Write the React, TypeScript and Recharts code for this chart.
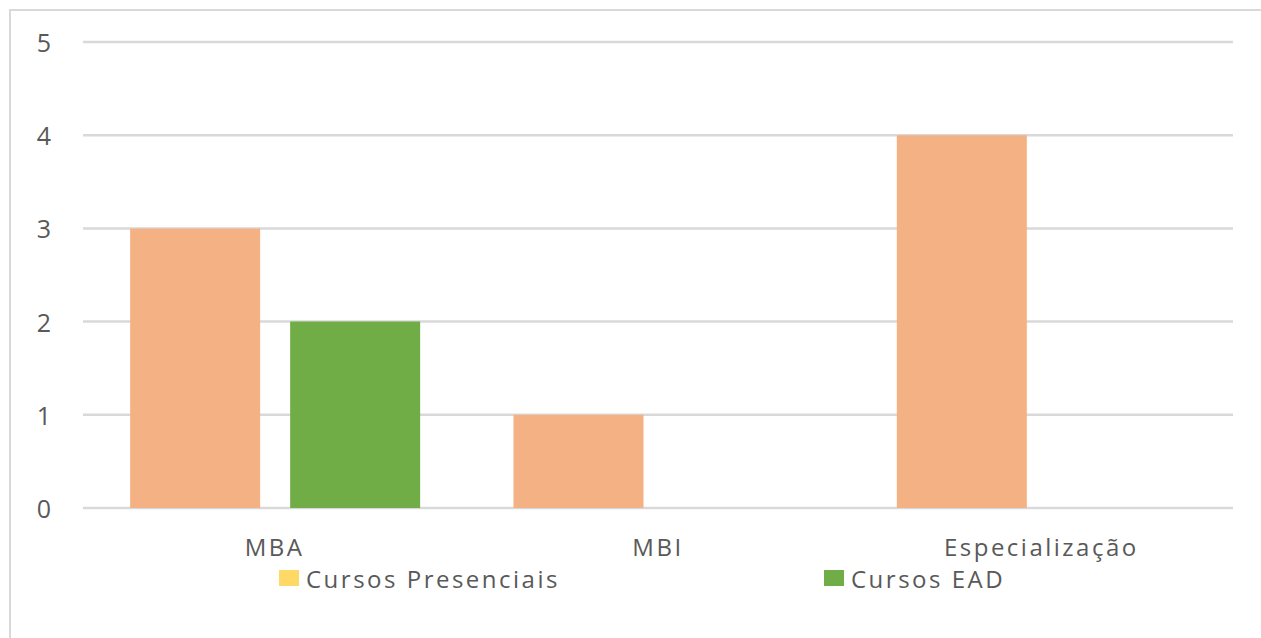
import React from 'react';
import { BarChart, Bar, XAxis, YAxis, CartesianGrid, Legend } from 'recharts';

const categories = ['MBA', 'MBI', 'Especialização'];
const presenciais = [3, 1, 4];
const ead = [2, 0, 0];
const yTicks = [0, 1, 2, 3, 4, 5];

const data = categories.map((name, i) => ({ name, presenciais: presenciais[i], ead: ead[i] }));

const FONT = '"Open Sans", sans-serif';
const TEXT = '#595959';

const YTick = (props: any) => {
    const { y, payload } = props;
    return (
        <text x={44} y={y} textAnchor="middle" dominantBaseline="central" fill={TEXT} fontSize={25} fontFamily={FONT}>
            {payload.value}
        </text>
    );
};

const XTick = (props: any) => {
    const { x, y, payload } = props;
    return (
        <text x={x} y={y + 30} textAnchor="middle" dominantBaseline="central" fill={TEXT} fontSize={24} fontFamily={FONT} letterSpacing={2.5}>
            {payload.value}
        </text>
    );
};

const legendItems = [
    { label: 'Cursos Presenciais', color: '#FFD966', left: 279 },
    { label: 'Cursos EAD', color: '#70AD47', left: 824 },
];

const LegendContent = () => (
    <div style={{ position: 'relative', height: 30, width: 1261 }}>
        {legendItems.map((it) => (
            <div
                key={it.label}
                style={{ position: 'absolute', left: it.left, top: 0, height: 30, display: 'flex', alignItems: 'center' }}
            >
                <span style={{ width: 20, height: 16, background: it.color, display: 'inline-block', marginRight: 7 }} />
                <span style={{ fontFamily: FONT, fontSize: 24, color: TEXT, letterSpacing: 2.5 }}>{it.label}</span>
            </div>
        ))}
    </div>
);

export default function App() {
    return (
        <div style={{ position: 'absolute', left: 0, top: 0, width: 1261, height: 638, overflow: 'hidden', background: '#fff' }}>
            <div
                style={{
                    position: 'absolute',
                    left: 9,
                    top: 9,
                    width: 1300,
                    height: 700,
                    border: '2px solid #d9d9d9',
                }}
            />
            <div style={{ position: 'absolute', left: 0, top: 0 }}>
                <BarChart
                    width={1261}
                    height={638}
                    data={data}
                    margin={{ top: 42, right: 28, left: 0, bottom: 45 }}
                    barCategoryGap="12.3%"
                    barGap={30}
                >
                    <CartesianGrid vertical={false} stroke="#d9d9d9" strokeWidth={2.5} />
                    <XAxis dataKey="name" axisLine={false} tickLine={false} tick={<XTick />} height={55} interval={0} />
                    <YAxis
                        domain={[0, 5]}
                        ticks={yTicks}
                        axisLine={false}
                        tickLine={false}
                        width={83}
                        tick={<YTick />}
                    />
                    <Legend
                        verticalAlign="bottom"
                        content={<LegendContent />}
                        wrapperStyle={{ left: 0, width: 1261 }}
                    />
                    <Bar dataKey="presenciais" fill="#F4B183" isAnimationActive={false} />
                    <Bar dataKey="ead" fill="#70AD47" isAnimationActive={false} />
                </BarChart>
            </div>
        </div>
    );
}
